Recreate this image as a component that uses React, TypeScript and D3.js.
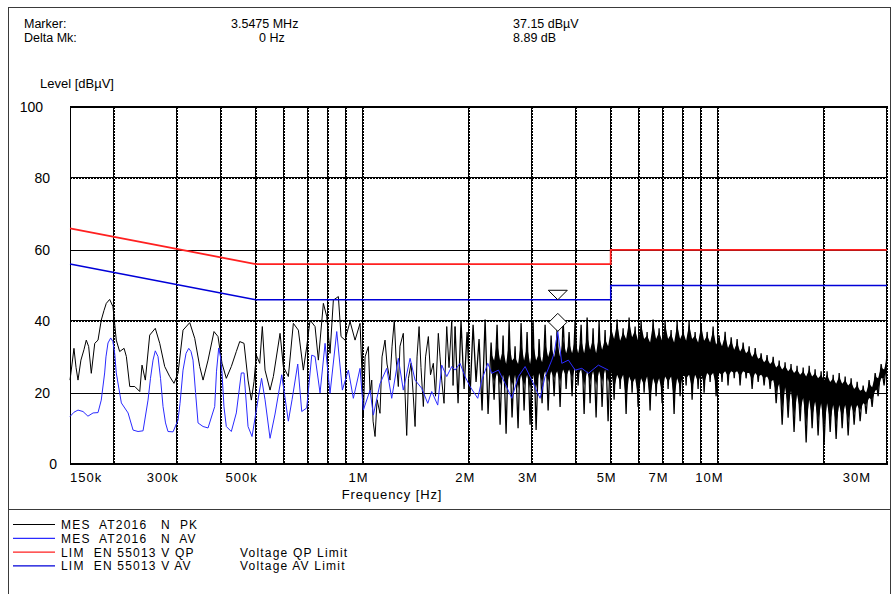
import React from 'react';
import * as d3 from 'd3';

// frequencies in MHz, levels in dBµV
const pkFreq = [
  0.150, 0.152, 0.1539, 0.156, 0.158, 0.161, 0.1642, 0.1667, 0.1693, 0.1722,
  0.1761, 0.1799, 0.1837, 0.187, 0.1898, 0.194, 0.1982, 0.2025, 0.207, 0.213,
  0.2162, 0.221, 0.2283, 0.2358, 0.2393, 0.2445, 0.2515, 0.2608, 0.2684, 0.2772,
  0.2864, 0.2944, 0.3022, 0.3122, 0.3261, 0.3368, 0.3479, 0.3555, 0.3672, 0.3817,
  0.3917, 0.402, 0.4134, 0.427, 0.4411, 0.4509, 0.4637, 0.4759, 0.4862, 0.4948,
  0.5022, 0.5134, 0.5221, 0.5314, 0.5489, 0.5608, 0.5857, 0.5984, 0.6181, 0.6385,
  0.6595, 0.6812, 0.6964, 0.7115, 0.735, 0.7509, 0.7757, 0.7929, 0.81, 0.8276,
  0.8549, 0.8699, 0.8928, 0.9222, 0.9526, 0.984, 0.9969, 1.0053, 1.0165, 1.0385,
  1.05, 1.0616, 1.0707, 1.0847, 1.0988, 1.12, 1.1347, 1.157, 1.172, 1.195,
  1.211, 1.2288, 1.2424, 1.2612, 1.275, 1.3026, 1.3171, 1.3317, 1.347, 1.37,
  1.388, 1.406, 1.424, 1.443, 1.461, 1.4835, 1.5048, 1.5324, 1.554, 1.5826,
  1.6053, 1.6348, 1.653, 1.6713, 1.6965, 1.7265, 1.7523, 1.7835, 1.7987,
];
const pkLevel = [
  23.5, 28, 32.4, 27, 23.5, 29.1, 32, 34.7, 32.9, 25.4,
  33.8, 34.7, 40.3, 43, 45, 46.1, 44.1, 34.7, 31.5, 32.4,
  30.1, 21.7, 21.7, 20.3, 27.7, 23.5, 36.1, 38, 33.8, 27.3,
  24.5, 22.6, 25.4, 37.5, 39.6, 35.2, 27.3, 23.5, 29.1, 37.1,
  35.7, 28.2, 24, 27.3, 31.5, 34.3, 33.8, 23.5, 17.9, 23.1,
  30.5, 28.2, 38.5, 26.3, 20.7, 24.5, 36.6, 27.3, 24.5, 39.4,
  37.5, 26.3, 32.9, 40.3, 38.5, 29.1, 45, 41.3, 31, 45.9,
  46.9, 35.7, 34.7, 39.9, 34.7, 39.4, 25, 13.3, 30, 32.9,
  20, 23.5, 12, 7.7, 18, 14.2, 30, 34.7, 28, 23.5,
  33, 40.3, 30, 21.7, 33, 36.6, 20, 8, 24, 28.2,
  20, 10.5, 30, 38.5, 27, 16.1, 30, 35.7, 25, 28.2,
  19, 36.6, 30, 23.5, 17, 38.5, 27, 40.3, 22,
];

// dense part of the peak scan, above ~1.8 MHz
const pkDenseFreq = [
  1.822, 1.858, 1.894, 1.932, 1.97, 2.008, 2.048, 2.088, 2.129, 2.171,
  2.214, 2.257, 2.302, 2.347, 2.393, 2.44, 2.488, 2.537, 2.587, 2.637,
  2.689, 2.742, 2.796, 2.851, 2.907, 2.964, 3.022, 3.082, 3.142, 3.204,
  3.267, 3.332, 3.397, 3.464, 3.532, 3.601, 3.672, 3.744, 3.817, 3.892,
  3.969, 4.047, 4.127, 4.208, 4.291, 4.374, 4.46, 4.548, 4.637, 4.728,
  4.821, 4.916, 5.012, 5.111, 5.211, 5.314, 5.419, 5.525, 5.633, 5.744,
  5.857, 5.972, 6.089, 6.209, 6.331, 6.455, 6.582, 6.711, 6.843, 6.978,
  7.115, 7.255, 7.397, 7.542, 7.691, 7.842, 7.996, 8.153, 8.313, 8.477,
  8.643, 8.813, 8.986, 9.163, 9.343, 9.526, 9.714, 9.904, 10.1, 10.29,
  10.5, 10.7, 10.92, 11.14, 11.35, 11.57, 11.8, 12.03, 12.27, 12.51,
  12.76, 13.01, 13.26, 13.52, 13.78, 14.06, 14.34, 14.62, 14.91, 15.2,
  15.49, 15.8, 16.1, 16.42, 16.74, 17.08, 17.42, 17.76, 18.11, 18.46,
  18.82, 19.19, 19.57, 19.95, 20.34, 20.75, 21.16, 21.57, 22.0, 22.43,
  22.87, 23.32, 23.77, 24.24, 24.72, 25.2, 25.7, 26.2, 26.71, 27.24,
  27.78, 28.32, 28.88, 29.44, 30.0,
];
const pkDenseLevel = [
  38.5, 17, 40, 21, 37, 19, 39, 23, 35, 15,
  40.5, 14, 34, 18, 39, 11, 36, 8.5, 40, 13,
  33, 10, 39.5, 15, 37, 11, 40, 9.5, 35, 17,
  39, 15, 36, 19, 38, 16, 40.5, 21, 37, 19,
  40, 22, 39, 14, 41, 17, 38, 13, 40, 16,
  37.5, 12, 39, 18, 40.5, 21, 38, 14, 41, 20,
  38.5, 16, 40, 20, 37, 15, 40.5, 19, 38, 17,
  40, 21, 37.5, 14, 40, 19, 38, 22, 40, 18,
  37, 21, 39.5, 20, 37, 23, 38.5, 19, 36, 23,
  37, 22, 35.5, 24, 35, 22, 34, 24, 33, 21,
  32.5, 23, 31, 22, 30.5, 21, 30, 17, 29, 11,
  28.5, 13, 28, 9, 27.5, 12, 27, 6, 27.5, 10,
  26.5, 8, 26, 5.5, 26, 9, 25, 7, 25.5, 10,
  24.5, 8, 24, 11, 23, 12, 22, 14, 23.5, 16,
  25.5, 19, 28, 22, 30.5,
];

// filled core of the peak trace from 2.3 MHz up (same frequencies as the tail of pkDenseFreq)
const coreTop = [
  31, 29, 34, 29, 32, 28, 34, 29, 30, 28, 34, 29, 33, 28, 34, 29, 31, 28.5, 34, 30,
  33, 30, 34, 30, 35, 31, 34, 31, 35, 31, 35, 31, 36, 32, 35, 31, 36, 32, 35, 33,
  38, 35, 39.5, 34.5, 37, 35, 40, 35.5, 37.5, 34.5, 39, 35, 36, 34, 39.5, 35, 37, 34.5, 39, 35,
  36.5, 34, 39, 35, 37, 34.5, 39, 35, 36, 34, 38.5, 34.5, 36, 34, 37.5, 33.5, 35, 33, 36, 32.5,
  34.5, 32, 34, 31.5, 33, 31, 32, 30, 31.5, 29.5, 30, 28.5, 29.5, 28, 29, 27, 28, 26.5, 27.5, 26,
  27, 25.5, 26.5, 25, 26, 24.5, 26.5, 24.5, 25.5, 24, 25, 23.5, 25, 23, 24, 22.5, 24.5, 22.5, 23.5, 22,
  23, 21, 22, 20.5, 21, 20, 22.5, 21.5, 24.5, 24, 27, 26.5, 29.5,
];
const coreBottom = [
  26, 23, 25.5, 22, 25, 21, 25, 22, 25, 21, 25, 22, 25, 21, 25, 21, 25.5, 23, 26, 23,
  26, 24, 26, 23, 26.5, 24.5, 26.5, 24, 27, 25, 26.5, 22, 26, 23, 26, 22, 26, 23, 26.5, 23,
  26, 21, 25, 23, 25, 18, 24.5, 22.5, 24, 19, 24, 22, 24.5, 18, 24, 21.5, 24, 20, 24.5, 23,
  24.5, 18, 24, 21.5, 25, 24, 25, 21, 25, 23, 25, 22.5, 25.5, 24.5, 25.5, 22, 25.5, 25, 26, 24.5,
  26, 25.5, 26, 24.5, 26, 25.5, 25.5, 23.5, 25.5, 24.5, 25, 24, 24.5, 23, 23.5, 20, 22.5, 15, 21.5, 16,
  20.5, 13, 19.5, 15, 18.5, 11, 18, 13, 17.5, 12, 17, 10, 17, 12, 16.5, 11, 16.5, 13, 16.5, 12,
  16.5, 14, 16.5, 15, 17, 16.5, 18.5, 18, 20.5, 21, 24, 24, 27,
];

const avFreq = [
  0.150, 0.1539, 0.158, 0.1632, 0.1685, 0.1742, 0.1799, 0.1837, 0.1878, 0.1894,
  0.1919, 0.1953, 0.1982, 0.2004, 0.2025, 0.2093, 0.2186, 0.2258, 0.2332, 0.2409,
  0.2488, 0.2528, 0.257, 0.2608, 0.2654, 0.2698, 0.2742, 0.2787, 0.2832, 0.2926,
  0.3022, 0.3062, 0.3122, 0.3184, 0.324, 0.3288, 0.3331, 0.3386, 0.3441, 0.3555,
  0.3672, 0.3834, 0.3879, 0.3935, 0.3981, 0.402, 0.4072, 0.4134, 0.427, 0.4411,
  0.4556, 0.4637, 0.4759, 0.4884, 0.5022, 0.5195, 0.5314, 0.5489, 0.567, 0.5922,
  0.6181, 0.6331, 0.6569, 0.6742, 0.6964, 0.7194, 0.735, 0.7592, 0.7843, 0.81,
  0.846, 0.8773, 0.9121, 0.9422, 0.984, 1.0053, 1.05, 1.0728, 1.12, 1.1698,
  1.2083, 1.2612, 1.3026, 1.361, 1.406, 1.4681, 1.5264, 1.5662, 1.6284, 1.6713,
  1.7265, 1.7835, 1.822, 1.882, 1.944, 2.008, 2.111, 2.167, 2.253, 2.312,
  2.414, 2.52, 2.632, 2.747, 2.87, 2.997, 3.163, 3.267, 3.412, 3.464,
  3.5475, 3.641, 3.8, 3.969, 4.146, 4.327, 4.616, 4.925,
];
const avLevel = [
  13.3, 14.5, 15.1, 14.7, 13.4, 14.3, 14.4, 17.9, 25.5, 30,
  33.9, 35.3, 34.3, 31, 25.5, 17.1, 14.3, 9.5, 9.1, 9.3,
  17.9, 24, 29.1, 31.7, 30.1, 24, 16.1, 11.5, 9.1, 9.0,
  12.3, 17, 26.3, 31, 32.4, 31.5, 29.1, 20, 11.5, 10.5,
  10.1, 16.1, 26, 32.5, 30, 25.5, 16, 10.5, 9.1, 14.3,
  25.5, 25.5, 10.5, 7.7, 15.1, 24, 18, 7.2, 14, 25,
  12, 18, 28, 14.7, 15.7, 30.5, 30.1, 19.9, 33.8, 19.8,
  37.1, 20.7, 26.3, 18.4, 26.8, 15.1, 20.7, 13.7, 22.5, 26.8,
  18.4, 29.6, 20.7, 29.6, 23.5, 21.2, 17.0, 20.3, 16.5, 27.7,
  24.5, 27.3, 26.3, 28.2, 24.5, 21.7, 18.4, 23.5, 28.2, 25.4,
  26.3, 22.6, 18.4, 24.5, 27.3, 23.5, 18.4, 24.5, 29.1, 31,
  37.15, 28.2, 29.1, 26.3, 26.8, 25.4, 27.7, 26.3,
];

// EN 55013 limits
const limFreq = [0.15, 0.5, 5, 5, 30];
const qpLimit = [66, 56, 56, 60, 60];
const avLimit = [56, 46, 46, 50, 50];

const markerFreq = 3.5475;
const markerLevel = 37.15;
const markerLimit = 46;

const gridFreq = [0.2, 0.3, 0.4, 0.5, 0.6, 0.7, 0.8, 0.9, 1, 2, 3, 4, 5, 6, 7, 8, 9, 10, 20, 30];
const tickFreq = [0.15, 0.3, 0.5, 1, 2, 3, 5, 7, 10, 30];
const tickText = ['150k', '300k', '500k', '1M', '2M', '3M', '5M', '7M', '10M', '30M'];
const yTicks = [0, 20, 40, 60, 80, 100];
const yThick = [40, 80];

const legendLabel = ['MES  AT2016   N  PK', 'MES  AT2016   N  AV', 'LIM  EN 55013 V QP', 'LIM  EN 55013 V AV'];
const legendNote = ['', '', 'Voltage QP Limit', 'Voltage AV Limit'];
const legendColor = ['#000000', '#2b2bff', '#ff2020', '#0000d8'];

const FONT = "'Liberation Sans', Arial, sans-serif";

export default function App() {
  const x = d3.scaleLog().domain([0.15, 30]).range([70, 887]);
  const y = d3.scaleLinear().domain([0, 100]).range([464, 107]);
  const line = d3.line<[number, number]>().x(d => x(d[0])).y(d => y(d[1]));

  const pk = d3.zip(pkFreq, pkLevel) as [number, number][];
  const pkDense = d3.zip(pkDenseFreq, pkDenseLevel) as [number, number][];
  pk.push(pkDense[0]);
  const av = d3.zip(avFreq, avLevel) as [number, number][];
  const qp = d3.zip(limFreq, qpLimit) as [number, number][];
  const avl = d3.zip(limFreq, avLimit) as [number, number][];

  const coreFreq = pkDenseFreq.slice(pkDenseFreq.length - coreTop.length);
  const core = d3.area<number>()
    .x(i => x(coreFreq[i]))
    .y0(i => y(coreBottom[i]))
    .y1(i => y(coreTop[i]));

  const mx = x(markerFreq);
  const tipY = y(markerLimit);
  const dY = y(markerLevel);
  const y0 = y(0), y100 = y(100);

  return (
    <svg width={892} height={594} style={{ position: 'absolute', left: 0, top: 0, background: '#fff' }}
      fontFamily={FONT}>
      <rect x={8.5} y={7.5} width={882} height={620} fill="none" stroke="#3a3a3a" />
      <line x1={8} x2={891} y1={509.5} y2={509.5} stroke="#3a3a3a" />

      {/* header */}
      <g fontSize={12.5} fill="#000">
        <text x={24} y={28}>Marker:</text>
        <text x={24} y={42}>Delta Mk:</text>
        <text x={231} y={28}>3.5475 MHz</text>
        <text x={259} y={42}>0 Hz</text>
        <text x={513} y={28}>37.15 dBµV</text>
        <text x={513} y={42}>8.89 dB</text>
      </g>
      <text x={40} y={88} fontSize={13}>Level [dBµV]</text>

      {/* grid */}
      <g>
        {yTicks.filter(v => v > 0 && v < 100).map(v => {
          const yy = Math.round(y(v));
          return yThick.includes(v) ? (
            <g key={'h' + v}>
              <line x1={70} x2={887} y1={yy - 0.5} y2={yy - 0.5} stroke="#000" />
              <line x1={70} x2={887} y1={yy + 0.5} y2={yy + 0.5} stroke="#000" strokeDasharray="2 1" />
            </g>
          ) : (
            <line key={'h' + v} x1={70} x2={887} y1={yy + 0.5} y2={yy + 0.5} stroke="#000" />
          );
        })}
        {gridFreq.map(f => {
          const xx = Math.round(x(f));
          return (
            <g key={'v' + f}>
              <line x1={xx - 0.5} x2={xx - 0.5} y1={y100} y2={y0} stroke="#000" />
              <line x1={xx + 0.5} x2={xx + 0.5} y1={y100} y2={y0} stroke="#000" strokeDasharray="2 1" />
            </g>
          );
        })}
        <line x1={70.5} x2={70.5} y1={y100} y2={y0} stroke="#000" strokeWidth={1} />
        <line x1={70} x2={888} y1={y100} y2={y100} stroke="#000" strokeWidth={2} />
        <line x1={70} x2={888} y1={y0} y2={y0} stroke="#000" strokeWidth={2} />
      </g>

      {/* traces */}
      <path d={core(d3.range(coreTop.length)) || ''} fill="#000" />
      <path d={line(pk) || ''} fill="none" stroke="#000" strokeWidth={1} />
      <path d={line(pkDense) || ''} fill="none" stroke="#000" strokeWidth={1.3} />
      <path d={line(av) || ''} fill="none" stroke="#2b2bff" strokeWidth={1} />
      <path d={line(qp) || ''} fill="none" stroke="#ff2020" strokeWidth={1.8} />
      <path d={line(avl) || ''} fill="none" stroke="#0000d8" strokeWidth={1.5} />

      {/* marker */}
      <path d={`M${mx},${tipY}L${mx - 9.5},${tipY - 9.5}L${mx + 9.5},${tipY - 9.5}Z`}
        fill="#fff" stroke="#000" />
      <path d={`M${mx},${dY}L${mx + 9},${dY - 9}L${mx},${dY - 18}L${mx - 9},${dY - 9}Z`}
        fill="#fff" stroke="#000" />

      {/* axes labels */}
      <g fontSize={14} fill="#000">
        {yTicks.map(v => (
          <text key={'y' + v} x={57 - 7 * (String(v).length - 1)} y={y(v) + 5} textAnchor="end">{v}</text>
        ))}
      </g>
      <g fontSize={13} fill="#000" letterSpacing={1}>
        {tickFreq.map((f, i) => {
          const t = tickText[i];
          if (i === 0) return <text key={t} x={x(f)} y={482}>{t}</text>;
          if (i === tickFreq.length - 1) return <text key={t} x={x(f) - 16} y={482} textAnchor="end">{t}</text>;
          return <text key={t} x={x(f) + (t.endsWith('k') ? 2 : 6)} y={482} textAnchor="end">{t}</text>;
        })}
        <text x={392} y={499} textAnchor="middle" letterSpacing={0.9}>Frequency [Hz]</text>
      </g>

      {/* legend */}
      <g fontSize={12} fill="#000" letterSpacing={1.2}>
        {legendLabel.map((t, i) => (
          <g key={t} transform={`translate(0,${524.5 + i * 13.8})`}>
            <line x1={13} x2={55} y1={0} y2={0} stroke={legendColor[i]} strokeWidth={1.2} />
            <text x={61} y={4.5} xmlSpace="preserve" style={{ whiteSpace: 'pre' }}>{t}</text>
            {legendNote[i] && <text x={240} y={4.5}>{legendNote[i]}</text>}
          </g>
        ))}
      </g>
    </svg>
  );
}
